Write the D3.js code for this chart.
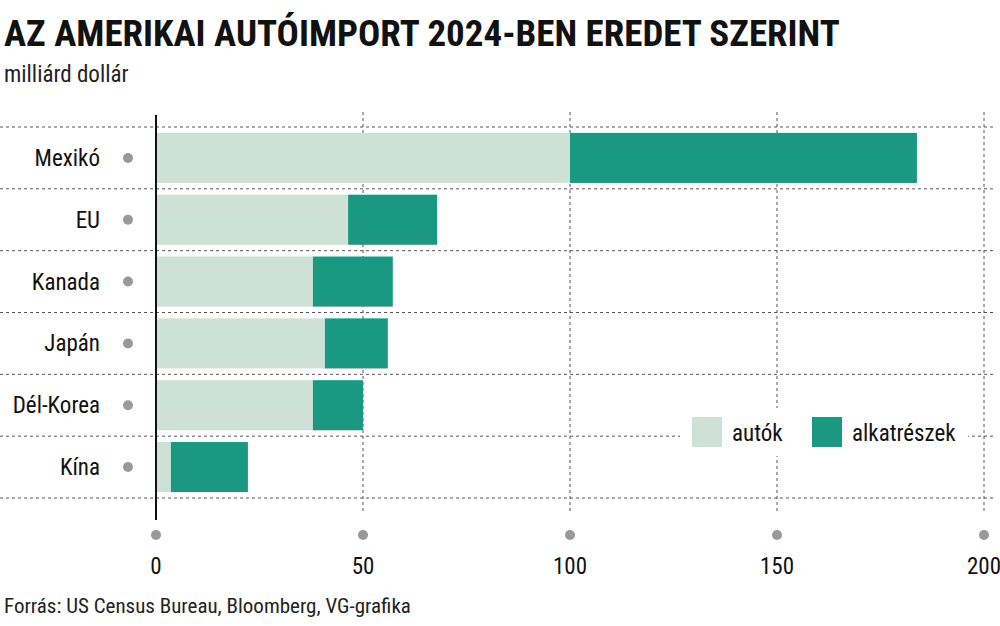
<!DOCTYPE html>
<html>
<head>
<meta charset="utf-8">
<script src="https://cdn.jsdelivr.net/npm/d3@7"></script>
<style>
body { margin: 0; background: #fff; }
text { font-family: "Liberation Sans Narrow", "Roboto Condensed", sans-serif; }
</style>
</head>
<body>
<svg id="chart" width="1000" height="626"></svg>
<script>
var countries = ["Mexikó", "EU", "Kanada", "Japán", "Dél-Korea", "Kína"];
var cars = [100, 46.4, 37.9, 40.8, 37.9, 3.6];
var parts = [83.8, 21.5, 19.3, 15.2, 12.1, 18.6];
var xTicks = [0, 50, 100, 150, 200];
var seriesNames = ["autók", "alkatrészek"];
var colors = ["#cde1d7", "#1a9882"];

var svg = d3.select("#chart");
var x = d3.scaleLinear().domain([0, 200]).range([156, 984]);
var y = d3.scaleBand().domain(countries).range([127, 498]).paddingInner(0.19).paddingOuter(0.095);
var rowY = d3.scaleBand().domain(countries).range([127, 498]);

svg.append("text").attr("x", 4).attr("y", 46).attr("font-size", 37).attr("font-weight", "bold")
    .attr("fill", "#111").text("AZ AMERIKAI AUTÓIMPORT 2024-BEN EREDET SZERINT");
svg.append("text").attr("x", 4).attr("y", 82).attr("font-size", 23).attr("fill", "#222").text("milliárd dollár");
svg.append("text").attr("x", 4).attr("y", 613).attr("font-size", 21).attr("fill", "#222")
    .text("Forrás: US Census Bureau, Bloomberg, VG-grafika");

// horizontal row lines
var lines = countries.map(c => rowY(c)).concat([498]);
svg.selectAll(".hl").data(lines).enter().append("line")
    .attr("x1", 0).attr("x2", 996).attr("y1", d => d).attr("y2", d => d)
    .attr("stroke", "#555").attr("stroke-dasharray", "3,3").attr("stroke-width", 1);

// vertical gridlines
svg.selectAll(".vl").data(xTicks.slice(1)).enter().append("line")
    .attr("x1", d => x(d)).attr("x2", d => x(d)).attr("y1", 112).attr("y2", 512)
    .attr("stroke", "#555").attr("stroke-dasharray", "3,3").attr("stroke-width", 1);

// bars
svg.selectAll(".car").data(countries).enter().append("rect")
    .attr("x", x(0)).attr("y", d => y(d)).attr("height", y.bandwidth())
    .attr("width", (d, i) => x(cars[i]) - x(0)).attr("fill", colors[0]);
svg.selectAll(".part").data(countries).enter().append("rect")
    .attr("x", (d, i) => x(cars[i])).attr("y", d => y(d)).attr("height", y.bandwidth())
    .attr("width", (d, i) => x(cars[i] + parts[i]) - x(cars[i])).attr("fill", colors[1]);

// axis line
svg.append("line").attr("x1", x(0)).attr("x2", x(0)).attr("y1", 115).attr("y2", 520)
    .attr("stroke", "#111").attr("stroke-width", 2);

// category labels and dots
svg.selectAll(".lab").data(countries).enter().append("text")
    .attr("x", 100).attr("y", d => rowY(d) + rowY.bandwidth() / 2 + 8)
    .attr("text-anchor", "end").attr("font-size", 23).attr("fill", "#111").text(d => d);
svg.selectAll(".dot").data(countries).enter().append("circle")
    .attr("cx", 128).attr("cy", d => rowY(d) + rowY.bandwidth() / 2).attr("r", 5).attr("fill", "#999");

// x ticks
svg.selectAll(".xd").data(xTicks).enter().append("circle")
    .attr("cx", d => x(d)).attr("cy", 535).attr("r", 5).attr("fill", "#999");
svg.selectAll(".xt").data(xTicks).enter().append("text")
    .attr("x", d => x(d)).attr("y", 574).attr("text-anchor", "middle").attr("font-size", 23)
    .attr("fill", "#111").text(d => d);

// legend
var lg = svg.append("g");
lg.append("rect").attr("x", 680).attr("y", 408).attr("width", 288).attr("height", 48).attr("fill", "#fff");
var lx = [692, 812];
seriesNames.forEach(function (s, i) {
    lg.append("rect").attr("x", lx[i]).attr("y", 417).attr("width", 30).attr("height", 30).attr("fill", colors[i]);
    lg.append("text").attr("x", lx[i] + 40).attr("y", 441).attr("font-size", 23).attr("fill", "#111").text(s);
});
</script>
</body>
</html>
